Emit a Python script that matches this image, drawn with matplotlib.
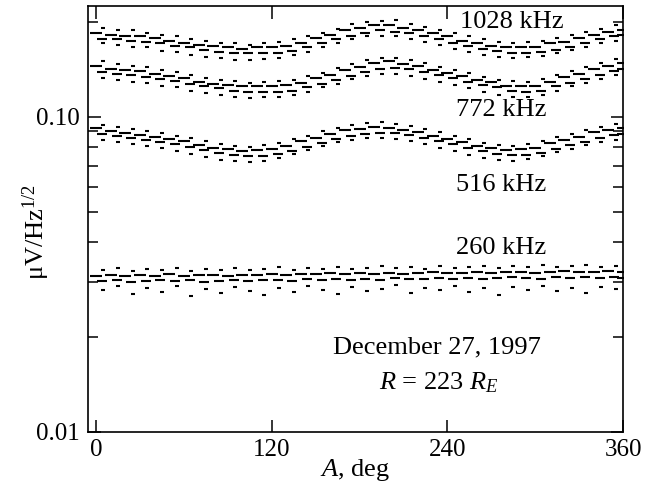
import matplotlib
matplotlib.use("Agg")
import matplotlib.pyplot as plt
from matplotlib.ticker import FixedLocator, NullFormatter, FixedFormatter

plt.rcParams['font.family'] = ['Liberation Serif', 'DejaVu Serif']
plt.rcParams['mathtext.fontset'] = 'custom'
plt.rcParams['mathtext.rm'] = 'Liberation Serif'
plt.rcParams['mathtext.it'] = 'Liberation Serif:italic'

# angle grids (deg)
ang_row1 = list(range(0, 361, 10))
ang_row2 = list(range(4, 355, 10)) + [359]
ang_dots = list(range(5, 360, 10))

# 1028 kHz
f1028_row1 = [0.185, 0.182, 0.181, 0.180, 0.178, 0.174, 0.172, 0.169, 0.168, 0.166, 0.164, 0.166, 0.166,
              0.168, 0.172, 0.178, 0.182, 0.188, 0.192, 0.195, 0.196, 0.192, 0.188, 0.184, 0.180, 0.174,
              0.171, 0.168, 0.167, 0.166, 0.167, 0.171, 0.173, 0.178, 0.182, 0.186, 0.189]
f1028_row2 = [0.177, 0.176, 0.174, 0.173, 0.171, 0.168, 0.166, 0.163, 0.161, 0.160, 0.159, 0.159, 0.160,
              0.162, 0.166, 0.171, 0.176, 0.181, 0.185, 0.188, 0.186, 0.185, 0.181, 0.177, 0.172, 0.168,
              0.164, 0.162, 0.160, 0.160, 0.161, 0.163, 0.167, 0.172, 0.176, 0.180, 0.182]
f1028_up = [0.192, 0.189, 0.188, 0.184, 0.182, 0.180, 0.176, 0.174, 0.172, 0.171, 0.169, 0.172, 0.173,
            0.176, 0.181, 0.185, 0.190, 0.197, 0.200, 0.202, 0.203, 0.197, 0.193, 0.188, 0.184, 0.180,
            0.176, 0.173, 0.172, 0.173, 0.174, 0.178, 0.182, 0.186, 0.190, 0.195]
f1028_lo = [0.171, 0.169, 0.167, 0.166, 0.162, 0.161, 0.157, 0.155, 0.154, 0.152, 0.151, 0.153, 0.154,
            0.157, 0.161, 0.166, 0.171, 0.176, 0.180, 0.181, 0.180, 0.176, 0.173, 0.169, 0.164, 0.161,
            0.157, 0.155, 0.154, 0.155, 0.156, 0.159, 0.163, 0.167, 0.171, 0.174]

# 772 kHz
f772_row1 = [0.145, 0.142, 0.141, 0.140, 0.137, 0.135, 0.133, 0.129, 0.127, 0.126, 0.125, 0.125, 0.125,
             0.126, 0.128, 0.133, 0.136, 0.141, 0.144, 0.148, 0.150, 0.147, 0.145, 0.141, 0.138, 0.135,
             0.131, 0.129, 0.125, 0.125, 0.125, 0.129, 0.134, 0.137, 0.142, 0.145, 0.148]
f772_row2 = [0.139, 0.137, 0.136, 0.134, 0.132, 0.130, 0.127, 0.125, 0.123, 0.121, 0.120, 0.120, 0.120,
             0.121, 0.124, 0.127, 0.131, 0.135, 0.139, 0.142, 0.143, 0.142, 0.139, 0.136, 0.133, 0.129,
             0.126, 0.124, 0.121, 0.120, 0.121, 0.125, 0.128, 0.132, 0.136, 0.140, 0.142]
f772_up = [0.150, 0.147, 0.145, 0.144, 0.141, 0.139, 0.136, 0.133, 0.131, 0.130, 0.128, 0.129, 0.130,
           0.131, 0.135, 0.138, 0.143, 0.147, 0.152, 0.154, 0.154, 0.151, 0.148, 0.144, 0.141, 0.138,
           0.134, 0.131, 0.130, 0.129, 0.132, 0.136, 0.140, 0.144, 0.148, 0.153]
f772_lo = [0.133, 0.131, 0.129, 0.128, 0.125, 0.124, 0.121, 0.119, 0.117, 0.116, 0.115, 0.116, 0.116,
           0.117, 0.120, 0.124, 0.127, 0.132, 0.135, 0.137, 0.137, 0.135, 0.132, 0.129, 0.126, 0.123,
           0.120, 0.117, 0.116, 0.116, 0.117, 0.121, 0.125, 0.128, 0.132, 0.136]

# 516 kHz
f516_row1 = [0.0923, 0.0903, 0.0890, 0.0877, 0.0864, 0.0852, 0.0839, 0.0815, 0.0797, 0.0792, 0.0780,
             0.0786, 0.0792, 0.0809, 0.0839, 0.0858, 0.0883, 0.0909, 0.0916, 0.0930, 0.0923, 0.0909,
             0.0896, 0.0870, 0.0852, 0.0833, 0.0809, 0.0797, 0.0786, 0.0792, 0.0797, 0.0827, 0.0845,
             0.0864, 0.0896, 0.0909, 0.0923]
f516_row2 = [0.0883, 0.0870, 0.0858, 0.0845, 0.0833, 0.0821, 0.0803, 0.0786, 0.0769, 0.0758, 0.0752,
             0.0752, 0.0763, 0.0780, 0.0803, 0.0827, 0.0852, 0.0870, 0.0883, 0.0890, 0.0890, 0.0877,
             0.0858, 0.0839, 0.0821, 0.0797, 0.0780, 0.0763, 0.0758, 0.0758, 0.0769, 0.0792, 0.0815,
             0.0833, 0.0858, 0.0877, 0.0883]
f516_up = [0.0943, 0.0930, 0.0916, 0.0903, 0.0890, 0.0870, 0.0858, 0.0839, 0.0821, 0.0809, 0.0803,
           0.0815, 0.0827, 0.0852, 0.0870, 0.0903, 0.0923, 0.0943, 0.0957, 0.0964, 0.0950, 0.0936,
           0.0916, 0.0896, 0.0870, 0.0852, 0.0827, 0.0815, 0.0809, 0.0821, 0.0839, 0.0864, 0.0883,
           0.0909, 0.0930, 0.0950]
f516_lo = [0.0845, 0.0833, 0.0821, 0.0809, 0.0797, 0.0780, 0.0763, 0.0747, 0.0730, 0.0725, 0.0720,
           0.0725, 0.0741, 0.0763, 0.0786, 0.0809, 0.0833, 0.0845, 0.0858, 0.0858, 0.0852, 0.0839,
           0.0821, 0.0797, 0.0780, 0.0758, 0.0741, 0.0730, 0.0725, 0.0736, 0.0752, 0.0774, 0.0792,
           0.0815, 0.0833, 0.0845]

# 260 kHz
f260_row1 = [0.0313, 0.0315, 0.0313, 0.0315, 0.0313, 0.0318, 0.0313, 0.0315, 0.0315, 0.0313, 0.0315,
             0.0315, 0.0318, 0.0315, 0.0318, 0.0318, 0.0320, 0.0318, 0.0320, 0.0318, 0.0320, 0.0318,
             0.0320, 0.0322, 0.0320, 0.0320, 0.0322, 0.0320, 0.0322, 0.0322, 0.0320, 0.0322, 0.0325,
             0.0322, 0.0322, 0.0325, 0.0322]
f260_row2 = [0.0302, 0.0304, 0.0299, 0.0302, 0.0304, 0.0302, 0.0304, 0.0299, 0.0302, 0.0304, 0.0302,
             0.0304, 0.0304, 0.0302, 0.0306, 0.0304, 0.0306, 0.0304, 0.0306, 0.0304, 0.0308, 0.0306,
             0.0306, 0.0308, 0.0306, 0.0308, 0.0306, 0.0308, 0.0311, 0.0308, 0.0306, 0.0311, 0.0308,
             0.0311, 0.0308, 0.0311, 0.0308]
f260_up = [0.0327, 0.0332, 0.0325, 0.0329, 0.0327, 0.0332, 0.0325, 0.0329, 0.0327, 0.0332, 0.0327,
           0.0329, 0.0334, 0.0327, 0.0332, 0.0329, 0.0334, 0.0329, 0.0332, 0.0337, 0.0332, 0.0334,
           0.0329, 0.0337, 0.0332, 0.0334, 0.0337, 0.0332, 0.0337, 0.0334, 0.0339, 0.0334, 0.0337,
           0.0339, 0.0334, 0.0337]
f260_lo = [0.0282, 0.0291, 0.0274, 0.0286, 0.0278, 0.0291, 0.0270, 0.0284, 0.0276, 0.0289, 0.0280,
           0.0272, 0.0286, 0.0278, 0.0291, 0.0282, 0.0274, 0.0289, 0.0280, 0.0284, 0.0293, 0.0276,
           0.0286, 0.0282, 0.0291, 0.0278, 0.0286, 0.0272, 0.0289, 0.0282, 0.0291, 0.0280, 0.0286,
           0.0276, 0.0289, 0.0284]

rows_a = [f1028_row1, f772_row1, f516_row1, f260_row1]
rows_b = [f1028_row2, f772_row2, f516_row2, f260_row2]
dot_rows = [f1028_up, f1028_lo, f772_up, f772_lo, f516_up, f516_lo, f260_up, f260_lo]

fig = plt.figure(figsize=(6.55, 4.87), dpi=100)
ax = fig.add_axes([0.1344, 0.113, 0.8168, 0.875])

for row in rows_a:
    ax.plot(ang_row1, row, ls='none', marker='_', ms=9, mew=1.5, color='black')
for row in rows_b:
    ax.plot(ang_row2, row, ls='none', marker='_', ms=7, mew=1.5, color='black')
for row in dot_rows:
    ax.plot(ang_dots, row, ls='none', marker='_', ms=2.5, mew=1.5, color='black')

ax.set_yscale('log')
ax.set_xlim(-5.5, 360)
ax.set_ylim(0.01, 0.225)

ax.xaxis.set_major_locator(FixedLocator([0, 120, 240, 360]))
ax.yaxis.set_major_locator(FixedLocator([0.01, 0.1]))
ax.yaxis.set_major_formatter(FixedFormatter(['0.01', '0.10']))
ax.yaxis.set_minor_locator(FixedLocator([0.02, 0.03, 0.04, 0.05, 0.06, 0.07, 0.08, 0.09, 0.2]))
ax.yaxis.set_minor_formatter(NullFormatter())

ax.tick_params(which='both', direction='in', top=True, right=True, width=1.1, labelsize=18)
ax.tick_params(which='major', length=9)
ax.tick_params(which='minor', length=7)
ax.tick_params(axis='y', pad=6)
ax.tick_params(axis='x', pad=5)
for s in ax.spines.values():
    s.set_linewidth(1.2)

ax.set_xlabel('$A$, deg', fontsize=19, labelpad=-3)
ax.set_ylabel('μV/Hz$^{1/2}$', fontsize=19)
ax.yaxis.set_label_coords(-0.067, 0.47)

ax.text(284, 0.200, '1028 kHz', fontsize=19, ha='center', va='center')
ax.text(277, 0.1052, '772 kHz', fontsize=19, ha='center', va='center')
ax.text(277, 0.0608, '516 kHz', fontsize=19, ha='center', va='center')
ax.text(277, 0.0384, '260 kHz', fontsize=19, ha='center', va='center')
ax.text(233, 0.0185, 'December 27, 1997', fontsize=19, ha='center', va='center')
ax.text(234, 0.0143, '$R$ = 223 $R_E$', fontsize=19, ha='center', va='center')

fig.savefig('out.png', dpi=100)
